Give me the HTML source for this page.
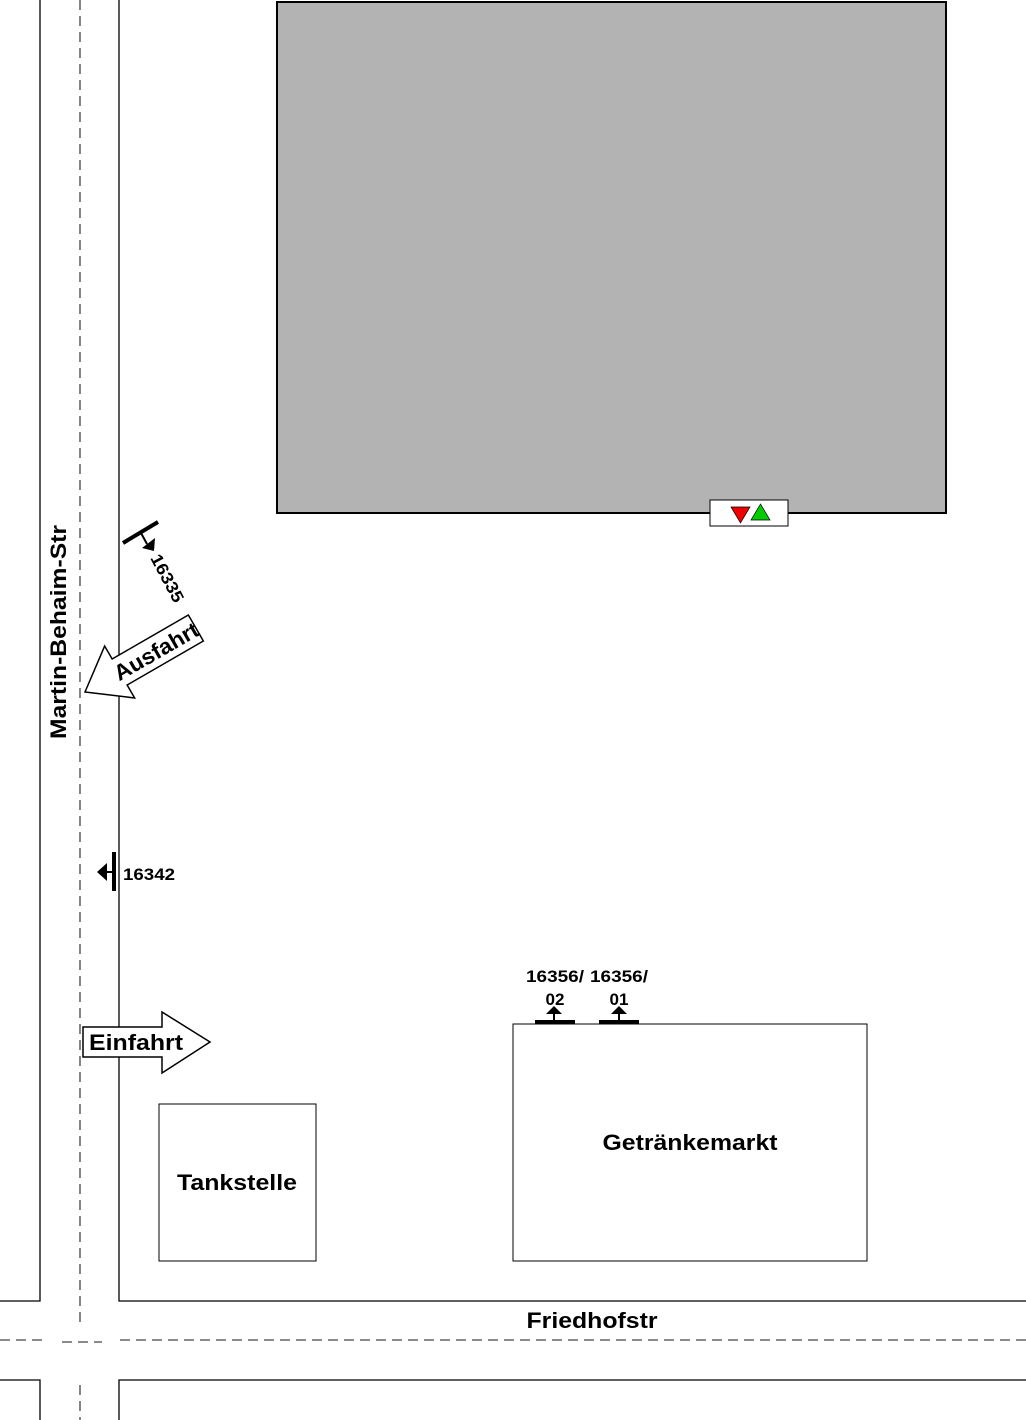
<!DOCTYPE html>
<html><head><style>body{margin:0;background:#fff}svg{display:block}text{font-family:"Liberation Sans",sans-serif;font-weight:bold;fill:#000}</style></head><body>
<svg width="1026" height="1420" viewBox="0 0 1026 1420" xmlns="http://www.w3.org/2000/svg">
<g stroke="#000" stroke-width="1.3" fill="none">
<path d="M40 0V1301H0M119 0V1301H1026M0 1380H40V1420M1026 1380H119V1420"/>
<g stroke-dasharray="10,6" stroke="#444">
<path d="M80 0V1325M80 1385V1420M0 1340H42M62 1342H102M120 1340H1026"/>
</g>
</g>
<rect x="277" y="2" width="669" height="511" fill="#b3b3b3" stroke="#000" stroke-width="2"/>
<rect x="710" y="500" width="78" height="26" fill="#fff" stroke="#000" stroke-width="1"/>
<path d="M731 507H750L740.5 523Z" fill="#e00" stroke="#000" stroke-width="0.7"/>
<path d="M760.5 504L770 520H751Z" fill="#0c0" stroke="#000" stroke-width="0.7"/>
<text x="60" y="632" font-size="22" text-anchor="middle" transform="rotate(-90 60 632)" dominant-baseline="middle" textLength="214" lengthAdjust="spacingAndGlyphs">Martin-Behaim-Str</text>
<!-- 16335 -->
<path d="M123 543L158 522" stroke="#000" stroke-width="4"/>
<path d="M141 533L147 544" stroke="#000" stroke-width="2"/>
<path d="M142 548L155 538L154 551Z" fill="#000"/>
<text x="150" y="558" font-size="17" transform="rotate(62 150 558)" textLength="52" lengthAdjust="spacingAndGlyphs">16335</text>
<!-- Ausfahrt -->
<g transform="translate(85,692) rotate(-30)">
<path d="M0 0L40 -30V-15H128V15H40V30Z" fill="#fff" stroke="#000" stroke-width="1.5"/>
<text x="82" y="8" font-size="22" text-anchor="middle" textLength="94" lengthAdjust="spacingAndGlyphs">Ausfahrt</text>
</g>
<!-- 16342 -->
<path d="M114 852V891" stroke="#000" stroke-width="4"/>
<path d="M104 872H114" stroke="#000" stroke-width="2"/>
<path d="M97 872L107 863V881Z" fill="#000"/>
<text x="123" y="880" font-size="17" textLength="52" lengthAdjust="spacingAndGlyphs">16342</text>
<!-- Einfahrt -->
<path d="M83 1027H162V1012L210 1042L162 1073V1057H83Z" fill="#fff" stroke="#000" stroke-width="1.5"/>
<text x="89" y="1050" font-size="22" textLength="94" lengthAdjust="spacingAndGlyphs">Einfahrt</text>
<rect x="159" y="1104" width="157" height="157" fill="#fff" stroke="#000" stroke-width="1"/>
<text x="237" y="1190" font-size="22" text-anchor="middle" textLength="120" lengthAdjust="spacingAndGlyphs">Tankstelle</text>
<rect x="513" y="1024" width="354" height="237" fill="#fff" stroke="#000" stroke-width="1"/>
<text x="690" y="1150" font-size="22" text-anchor="middle" textLength="175" lengthAdjust="spacingAndGlyphs">Getränkemarkt</text>
<path d="M535 1022H575M599 1022H639" stroke="#000" stroke-width="4"/>
<path d="M554 1020V1012M619 1020V1012" stroke="#000" stroke-width="2"/>
<path d="M546 1014L554 1006L562 1014ZM611 1014L619 1006L627 1014Z" fill="#000"/>
<text x="555" y="982" font-size="17" text-anchor="middle" textLength="58" lengthAdjust="spacingAndGlyphs">16356/</text>
<text x="555" y="1005" font-size="17" text-anchor="middle">02</text>
<text x="619" y="982" font-size="17" text-anchor="middle" textLength="58" lengthAdjust="spacingAndGlyphs">16356/</text>
<text x="619" y="1005" font-size="17" text-anchor="middle">01</text>
<text x="592" y="1328" font-size="22" text-anchor="middle" textLength="131" lengthAdjust="spacingAndGlyphs">Friedhofstr</text>
</svg>
</body></html>
